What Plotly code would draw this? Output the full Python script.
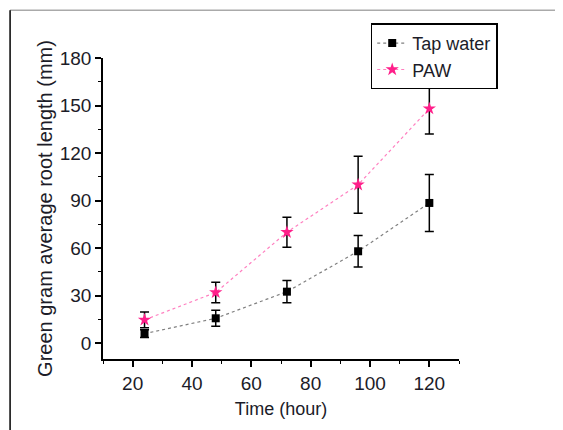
import plotly.graph_objects as go

hours = [24, 48, 72, 96, 120]
tap_mean = [6, 15.7, 32.5, 58, 88.5]
tap_err = [2.5, 5, 7, 10, 18]
paw_mean = [14.7, 32, 70, 100, 148]
paw_err = [5, 6.5, 9.5, 18, 16]

FONT = "Liberation Sans, Arial, sans-serif"
TXT = "#1c1c28"

fig = go.Figure()
fig.add_trace(go.Scatter(
    x=hours, y=tap_mean, name="Tap water", mode="lines+markers",
    line=dict(color="#808080", width=1.2, dash="dot"),
    marker=dict(symbol="square", size=8, color="black"),
    error_y=dict(type="data", array=tap_err, color="black", thickness=1.5, width=4.5),
))
fig.add_trace(go.Scatter(
    x=hours, y=paw_mean, name="PAW", mode="lines+markers",
    line=dict(color="#ff80c0", width=1.2, dash="dot"),
    marker=dict(symbol="star", size=10, color="#ff1f8a"),
    error_y=dict(type="data", array=paw_err, color="black", thickness=1.5, width=4.5),
))

axis_common = dict(
    showline=True, linecolor="black", linewidth=1.5, mirror=False,
    ticks="outside", ticklen=6, tickwidth=1.5, tickcolor="black",
    showgrid=False, zeroline=False,
    tickfont=dict(family=FONT, size=19, color=TXT),
)
fig.update_xaxes(
    range=[10, 130], tickvals=[20, 40, 60, 80, 100, 120],
    minor=dict(ticks="outside", ticklen=3, tickwidth=1.2, tickcolor="black", tickvals=[10, 30, 50, 70, 90, 110, 130]),
    title=dict(text="Time (hour)", font=dict(family=FONT, size=18, color=TXT), standoff=10),
    **axis_common,
)
fig.update_yaxes(
    range=[-10, 180], tickvals=[0, 30, 60, 90, 120, 150, 180],
    minor=dict(ticks="outside", ticklen=3, tickwidth=1.2, tickcolor="black", tickvals=[15, 45, 75, 105, 135, 165]),
    title=dict(text="Green gram average root length (mm)", font=dict(family=FONT, size=20, color=TXT), standoff=2),
    **axis_common,
)

# page body has an 8px margin, so the figure is made 8px smaller and shifted
fig.update_layout(
    width=555, height=422,
    margin=dict(l=95, r=104, t=50, b=71),
    paper_bgcolor="white", plot_bgcolor="white",
    showlegend=True,
    legend=dict(
        x=0.752, y=1.115, xanchor="left", yanchor="top",
        bordercolor="black", borderwidth=1.5, bgcolor="white",
        font=dict(family=FONT, size=18, color=TXT),
        tracegroupgap=0, itemwidth=30,
    ),
    shapes=[
        dict(type="line", xref="paper", yref="paper", x0=-0.261, x1=1.3, y0=1.159, y1=1.159,
             line=dict(color="#aaaaaa", width=1.5)),
        dict(type="line", xref="paper", yref="paper", x0=-0.261, x1=-0.261, y0=1.159, y1=-0.3,
             line=dict(color="black", width=1.5)),
    ],
)

fig.write_html("out.html")
